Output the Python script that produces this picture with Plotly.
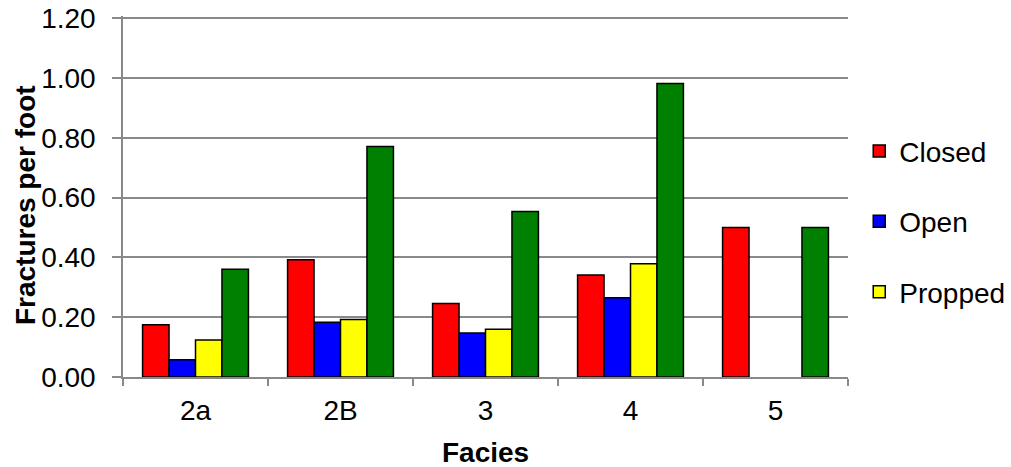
import plotly.graph_objects as go

facies = ["2a", "2B", "3", "4", "5"]
closed = [0.175, 0.392, 0.246, 0.341, 0.500]
open_ = [0.058, 0.183, 0.147, 0.265, 0.0]
propped = [0.124, 0.192, 0.160, 0.379, 0.0]
total = [0.360, 0.771, 0.553, 0.981, 0.500]

y_ticks = [0.0, 0.2, 0.4, 0.6, 0.8, 1.0, 1.2]
y_tick_text = ["%.2f" % v for v in y_ticks]

FONT = "Liberation Sans, Arial, sans-serif"
FS = 28
W, H = 1011, 467
Y_TOP = 1.207           # slightly above 1.20 so the top gridline is kept
PLOT_BOTTOM = 377       # pixel of y = 0
PX_PER_UNIT = (377 - 18) / 1.2
plot_h = Y_TOP * PX_PER_UNIT
t_margin = PLOT_BOTTOM - plot_h

fig = go.Figure()
series = [
    ("Closed", closed, "#FF0000", True),
    ("Open", open_, "#0000FF", True),
    ("Propped", propped, "#FFFF00", True),
    ("Total", total, "#008000", False),
]
for i, (name, vals, col, show) in enumerate(series):
    fig.add_trace(go.Bar(
        x=facies, y=vals, name=name, showlegend=show, legendgroup="g%d" % i,
        marker=dict(color=col,
                    line=dict(color="black", width=[1.5 if v > 0 else 0 for v in vals])),
    ))

fig.update_layout(
    width=W, height=H,
    margin=dict(l=123, r=163, t=t_margin, b=H - PLOT_BOTTOM, autoexpand=False),
    paper_bgcolor="white", plot_bgcolor="white",
    barmode="group", bargap=0.27, bargroupgap=0,
    font=dict(family=FONT, size=FS, color="black"),
    legend=dict(x=1.0155, y=(PLOT_BOTTOM - 221.7) / plot_h,
                xanchor="left", yanchor="middle",
                tracegroupgap=31, font=dict(size=FS, family=FONT),
                bgcolor="rgba(0,0,0,0)"),
    xaxis=dict(
        automargin=False,
        showline=True, linecolor="#898989", linewidth=1.5,
        ticks="outside", ticklen=7, tickcolor="#898989", tickwidth=1.5,
        tickson="boundaries", showgrid=False,
        tickfont=dict(size=FS, family=FONT), ticklabelstandoff=8,
    ),
    yaxis=dict(
        automargin=False, ticklabeloverflow="allow",
        range=[0, Y_TOP], tickvals=y_ticks, ticktext=y_tick_text,
        showline=True, linecolor="#898989", linewidth=1.5,
        ticks="outside", ticklen=9, tickcolor="#898989", tickwidth=1.5,
        showgrid=True, gridcolor="#898989", gridwidth=1.5,
        zeroline=False,
        tickfont=dict(size=FS, family=FONT), ticklabelstandoff=11,
    ),
    annotations=[
        dict(text="<b>Fractures per foot</b>", xref="paper", yref="paper",
             x=(25 - 123) / 725, y=(PLOT_BOTTOM - 205) / plot_h, textangle=-90,
             xanchor="center", yanchor="middle", showarrow=False,
             font=dict(size=FS, family=FONT)),
        dict(text="<b>Facies</b>", xref="paper", yref="paper",
             x=0.5, y=(PLOT_BOTTOM - 453) / plot_h,
             xanchor="center", yanchor="middle", showarrow=False,
             font=dict(size=FS, family=FONT)),
    ],
)
fig.write_html("out.html", config={"displayModeBar": False},
               post_script="document.body.style.margin='0';")
